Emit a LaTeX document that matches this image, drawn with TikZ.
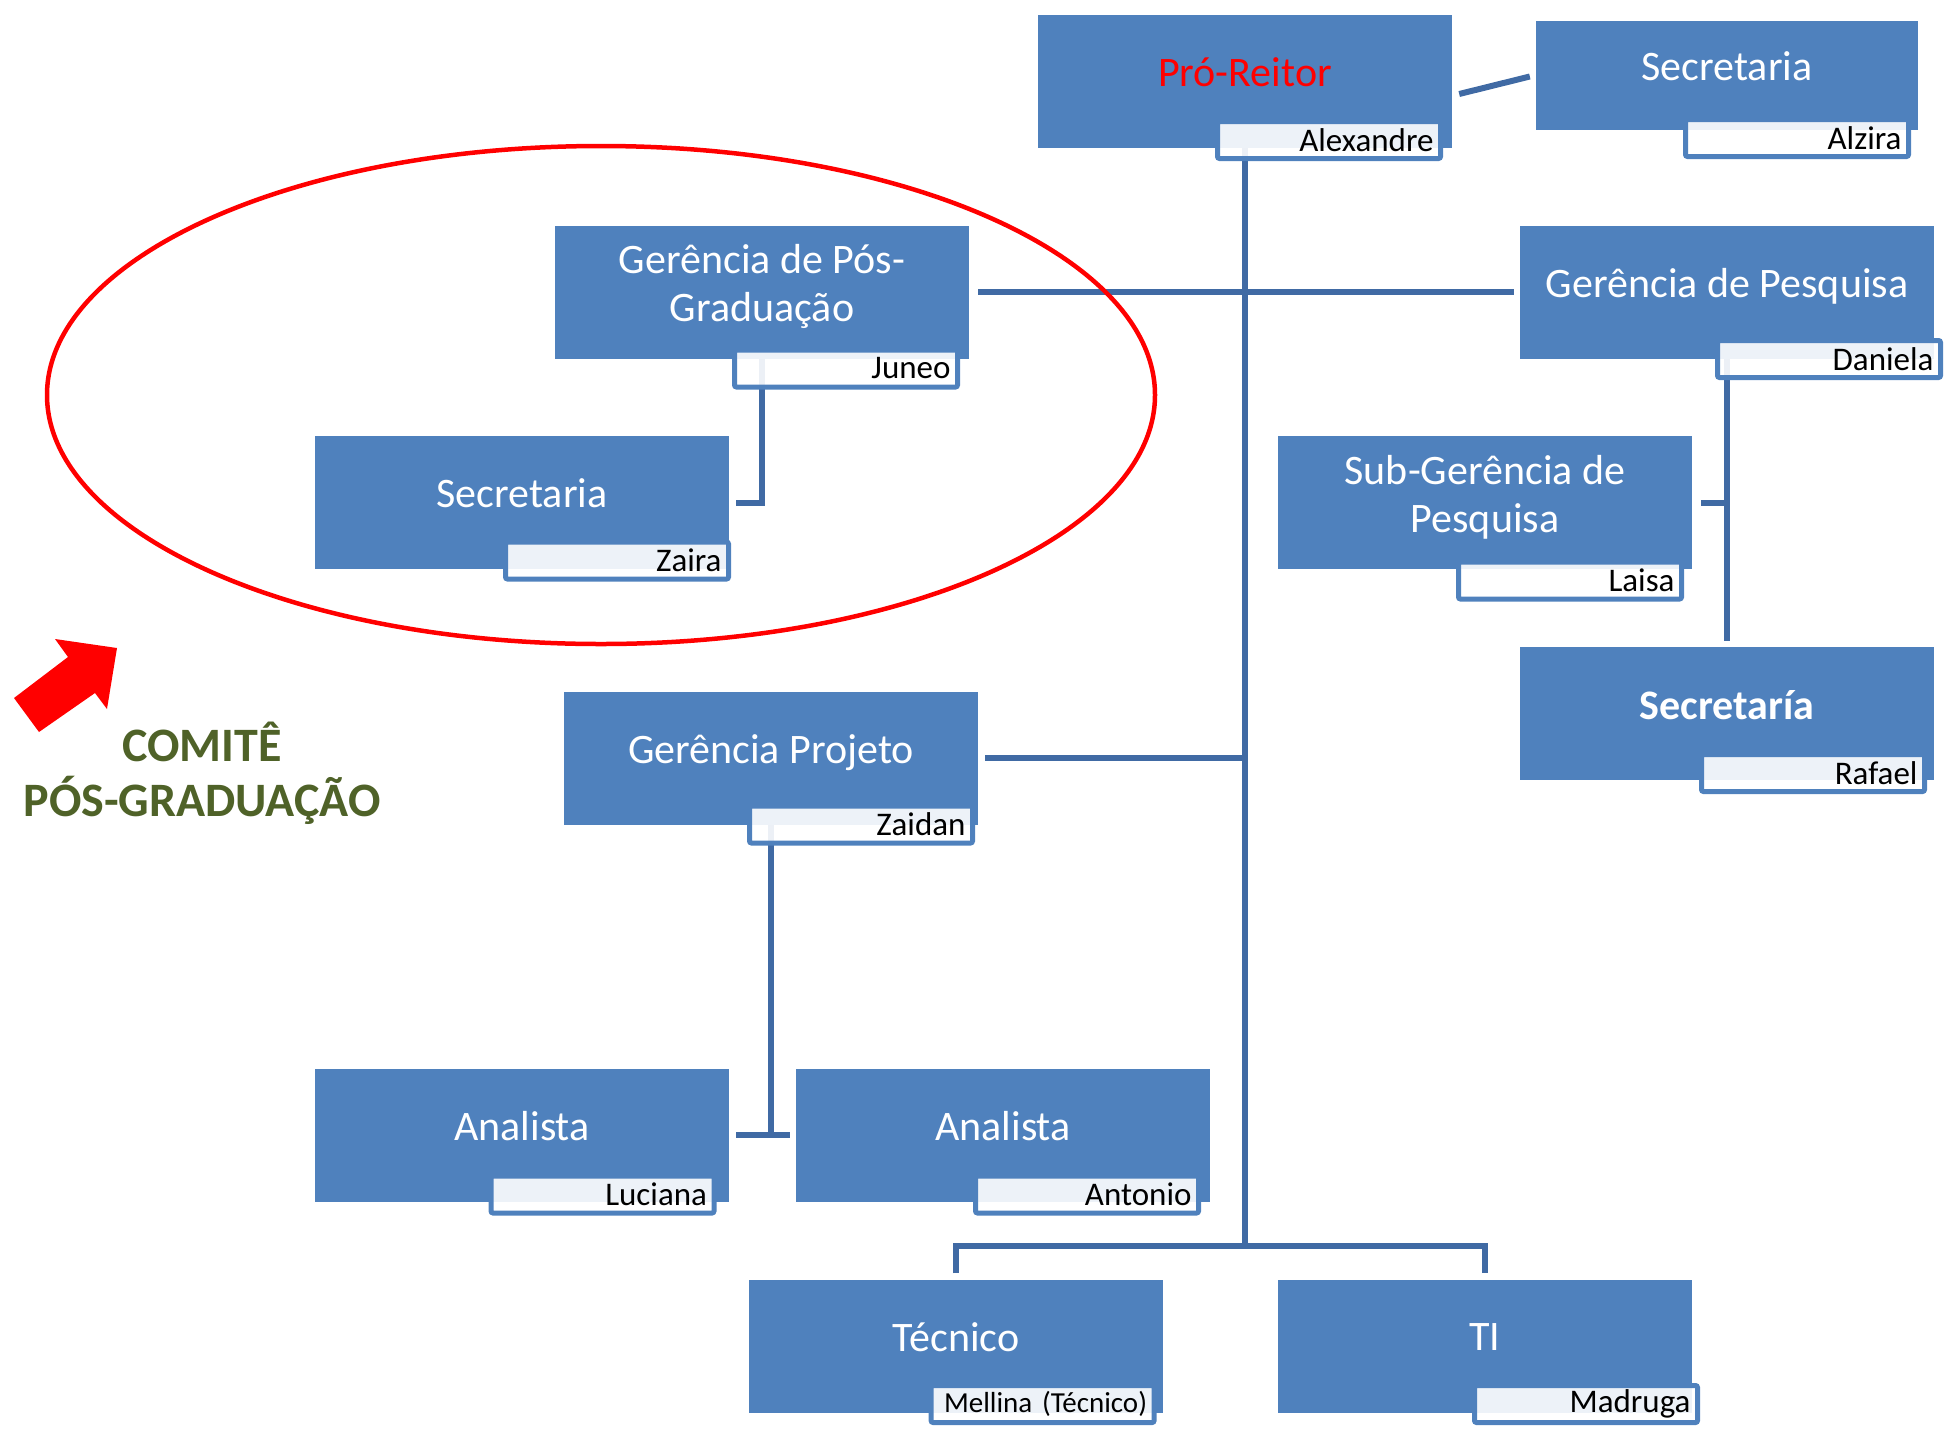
\documentclass[tikz,border=0pt]{standalone}
\usepackage{fontspec}
\setmainfont{Carlito}
\usetikzlibrary{backgrounds}
\definecolor{boxblue}{RGB}{79,129,189}
\definecolor{linkblue}{RGB}{64,106,164}
\definecolor{tagblue}{RGB}{79,129,189}
\definecolor{comitegreen}{RGB}{79,98,40}

\begin{document}
\begin{tikzpicture}[x=1pt, y=-1pt,
	unit/.style={rectangle, fill=boxblue, minimum width=414pt, minimum height=133pt, inner sep=0pt},
	title/.style={text=white, align=center, text depth=0pt, font=\fontsize{42}{48}\selectfont},
	tag/.style={rectangle, draw=tagblue, line width=5pt, rounded corners=2pt, fill=white, fill opacity=0.9, text opacity=1,
		minimum height=37pt, text width=209pt, inner xsep=7pt, inner ysep=0pt, align=right,
		font=\fontsize{33}{36}\selectfont},
	link/.style={draw=linkblue, line width=6pt},
	comite/.style={text=comitegreen, align=center, font=\bfseries\fontsize{48}{55}\selectfont}]
	\useasboundingbox (0,0) rectangle (1944,1428);

	% top
	\node[unit] (pro) at (1245,81) {};
	\node[title, text=red] (protitle) at ([yshift=9pt]pro.center) {Pró-Reitor};
	\node[tag] (proname) at (1329,140) {Alexandre};

	\node[unit, minimum width=382pt, minimum height=109pt] (sec) at (1727,75.5) {};
	\node[title] (sectitle) at ([yshift=9pt]sec.center) {Secretaria};
	\node[tag] (secname) at (1797,138) {Alzira};

	% pos-graduacao
	\node[unit] (gpg) at (762,292) {};
	\node[title] (gpgtitle) at ([yshift=9pt]gpg.center) {Gerência de Pós-\\Graduação};
	\node[tag] (gpgname) at (846,368.5) {Juneo};

	\node[unit] (secl) at (522,502.5) {};
	\node[title] (secltitle) at ([yshift=9pt]secl.center) {Secretaria};
	\node[tag] (seclname) at (617,560.5) {Zaira};

	% pesquisa
	\node[unit] (gp) at (1727,292) {};
	\node[title] (gptitle) at ([yshift=9pt]gp.center) {Gerência de Pesquisa};
	\node[tag] (gpname) at (1829,359) {Daniela};

	\node[unit] (subgp) at (1485,502.5) {};
	\node[title] (subgptitle) at ([yshift=9pt]subgp.center) {Sub-Gerência de\\Pesquisa};
	\node[tag] (subgpname) at (1570,580.5) {Laisa};

	\node[unit] (secr) at (1727,713.5) {};
	\node[title, font=\bfseries\fontsize{42}{48}\selectfont] (secrtitle) at ([yshift=9pt]secr.center) {Secretaría};
	\node[tag] (secrname) at (1813,773) {Rafael};

	% projeto
	\node[unit] (gproj) at (771,758) {};
	\node[title] (gprojtitle) at ([yshift=9pt]gproj.center) {Gerência Projeto};
	\node[tag] (gprojname) at (861,824.5) {Zaidan};

	\node[unit] (anl) at (522,1135) {};
	\node[title] (anltitle) at ([yshift=9pt]anl.center) {Analista};
	\node[tag] (anlname) at (602.5,1194.5) {Luciana};

	\node[unit] (anr) at (1003,1135) {};
	\node[title] (anrtitle) at ([yshift=9pt]anr.center) {Analista};
	\node[tag] (anrname) at (1087,1194.5) {Antonio};

	% bottom
	\node[unit] (tec) at (956,1346) {};
	\node[title] (tectitle) at ([yshift=9pt]tec.center) {Técnico};
	\node[tag, font=\fontsize{29}{32}\selectfont] (tecname) at (1042.6,1404) {Mellina (Técnico)};

	\node[unit] (ti) at (1485,1346) {};
	\node[title] (tititle) at ([yshift=9pt]ti.center) {TI};
	\node[tag] (tiname) at (1586,1404) {Madruga};

	\coordinate (bus) at (1245,1246);

	\begin{scope}[on background layer]
		\draw[link] (pro.center) -- (bus);
		\draw[link] ([xshift=7pt,yshift=-13pt]pro.east) -- ([xshift=-6pt,yshift=-1pt]sec.west);
		\draw[link] ([xshift=9pt]gpg.east) -- ([xshift=-6pt]gp.west);
		\draw[link] (gpg.center) -- (gpg.center |- secl.east) -- ([xshift=7pt]secl.east);
		\draw[link] (gp.center) -- ([yshift=6pt]secr.north);
		\draw[link] ([xshift=9pt]subgp.east) -- (gp.center |- subgp.east);
		\draw[link] ([xshift=7pt]gproj.east) -- (pro.center |- gproj.east);
		\draw[link] (gproj.center) -- (gproj.center |- anl.east);
		\draw[link] ([xshift=7pt]anl.east) -- ([xshift=-6pt]anr.west);
		\draw[link] ([yshift=6pt]tec.north) -- (tec.north |- bus) -- (ti.north |- bus) -- ([yshift=6pt]ti.north);
	\end{scope}

	% comite
	\draw[red, line width=4.5pt] (601,395) ellipse [x radius=554, y radius=249];
	\fill[red] (55,639) -- (117,648) -- (107,709) -- (95,693) -- (39,732) -- (14,698) -- (68,657) -- cycle;
	\node[comite] (comite) at (202,773) {COMITÊ\\PÓS-GRADUAÇÃO};
\end{tikzpicture}
\end{document}
